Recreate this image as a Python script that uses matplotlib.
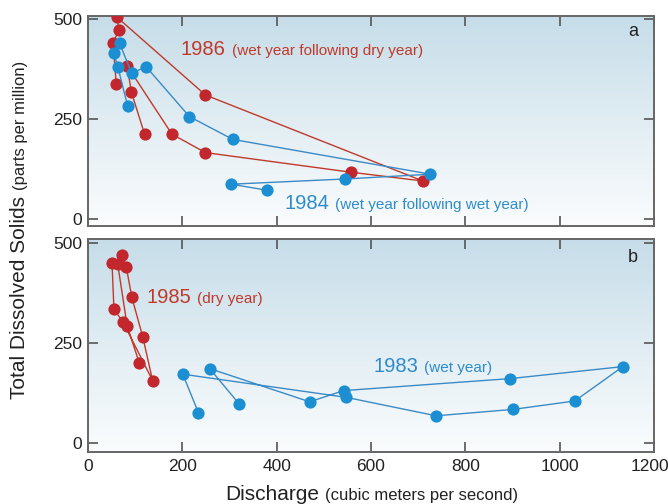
import matplotlib
matplotlib.use("Agg")
import matplotlib.pyplot as plt
import matplotlib.transforms as mtransforms
import numpy as np
from matplotlib.colors import LinearSegmentedColormap

plt.rcParams['font.family'] = ['Liberation Sans', 'DejaVu Sans']

# ---- data (discharge m3/s, TDS ppm) ----
x1986 = [120, 92, 83, 178, 249, 557, 710, 249, 62, 65, 53, 60]
y1986 = [212, 317, 383, 212, 166, 117, 95, 310, 504, 472, 439, 337]

x1984 = [379, 304, 544, 726, 307, 215, 123, 93, 67, 55, 63, 84]
y1984 = [72, 87, 100, 112, 199, 256, 381, 364, 439, 414, 381, 283]

x1985 = [109, 83, 63, 72, 81, 93, 116, 137, 74, 55, 51]
y1985 = [199, 293, 447, 470, 441, 364, 266, 156, 303, 334, 449]

x1983 = [234, 201, 548, 738, 901, 1032, 1134, 895, 542, 470, 258, 321]
y1983 = [76, 172, 114, 68, 84, 105, 191, 161, 131, 103, 186, 97]

xticks = [0, 200, 400, 600, 800, 1000, 1200]
yticks = [0, 250, 500]

RED = '#c1272d'
BLUE = '#1b8fd2'
RED_LINE = '#c0392b'
BLUE_LINE = '#3b8ac6'
RED_TXT = '#c0392b'
BLUE_TXT = '#2e8ccc'

W, H = 668, 504
fig = plt.figure(figsize=(W/100, H/100), dpi=100)

def fx(px): return px / W
def fy(py): return 1 - py / H

axa = fig.add_axes([fx(88), fy(226), fx(654) - fx(88), fy(16) - fy(226)])
axb = fig.add_axes([fx(88), fy(452), fx(654) - fx(88), fy(239) - fy(452)])

grad = np.linspace(0, 1, 256).reshape(-1, 1)
cmap = LinearSegmentedColormap.from_list('bg', ['#c6dde9', '#e1edf3', '#fafcfd'])

for ax, ylim in ((axa, (-17.5, 507.5)), (axb, (-22.5, 510))):
    ax.imshow(grad, aspect='auto', cmap=cmap, extent=[0, 1, 0, 1],
              transform=ax.transAxes, zorder=0, origin='upper')
    ax.set_xlim(0, 1200)
    ax.set_ylim(*ylim)
    ax.set_xticks(xticks)
    ax.set_yticks(yticks)
    ax.tick_params(direction='in', length=7, width=1.2, color='#555555',
                   top=True, right=True, labelsize=12.5, labelcolor='#222222', pad=4)
    for s in ax.spines.values():
        s.set_color('#666666')
        s.set_linewidth(1.4)

axa.tick_params(labelbottom=False)
axb.tick_params(axis='x', pad=5, labelsize=12.5)

ms = 8.8
lw = 1.0
axa.plot(x1986, y1986, '-', color=RED_LINE, lw=lw, zorder=3)
axa.plot(x1986, y1986, 'o', color=RED, ms=ms, mec='none', zorder=4)
axa.plot(x1984, y1984, '-', color=BLUE_LINE, lw=lw, zorder=5)
axa.plot(x1984, y1984, 'o', color=BLUE, ms=ms, mec='none', zorder=6)

axb.plot(x1983, y1983, '-', color=BLUE_LINE, lw=lw, zorder=3)
axb.plot(x1983, y1983, 'o', color=BLUE, ms=ms, mec='none', zorder=4)
axb.plot(x1985, y1985, '-', color=RED_LINE, lw=lw, zorder=5)
axb.plot(x1985, y1985, 'o', color=RED, ms=ms, mec='none', zorder=6)

fig.canvas.draw()
# nudge the last x tick label so it stays inside the canvas
last = axb.get_xticklabels()[-1]
last.set_transform(last.get_transform() +
                   mtransforms.ScaledTranslation(-4/100, 0, fig.dpi_scale_trans))

renderer = fig.canvas.get_renderer()

def two_part(px, py, big, small, color, bigsize=14.5, smallsize=11):
    t = fig.text(fx(px), fy(py), big, color=color, fontsize=bigsize,
                 ha='left', va='baseline')
    bb = t.get_window_extent(renderer)
    fig.text((bb.x1 + 6) / W, fy(py), small, color=color, fontsize=smallsize,
             ha='left', va='baseline')

two_part(181, 55, '1986', '(wet year following dry year)', RED_TXT)
two_part(284, 209, '1984', '(wet year following wet year)', BLUE_TXT)
two_part(146, 303, '1985', '(dry year)', RED_TXT)
two_part(373, 372, '1983', '(wet year)', BLUE_TXT)

fig.text(fx(633), fy(36), 'a', fontsize=13, color='#222222', ha='center', va='baseline')
fig.text(fx(633), fy(262), 'b', fontsize=13, color='#222222', ha='center', va='baseline')

# x label with mixed sizes, centred
t1 = fig.text(0, fy(500), 'Discharge', fontsize=15, color='#222222', ha='left', va='baseline')
t2 = fig.text(0, fy(500), '(cubic meters per second)', fontsize=12, color='#222222',
              ha='left', va='baseline')
b1 = t1.get_window_extent(renderer); b2 = t2.get_window_extent(renderer)
gap = 6
total = b1.width + gap + b2.width
x0 = 372 - total / 2
t1.set_x(x0 / W)
t2.set_x((x0 + b1.width + gap) / W)

# y label rotated with mixed sizes (baseline at ~x=25)
s1 = fig.text(fx(25), 0, 'Total Dissolved Solids', fontsize=15, color='#222222',
              rotation=90, ha='left', va='baseline', rotation_mode='anchor')
s2 = fig.text(fx(25), 0, '(parts per million)', fontsize=12, color='#222222',
              rotation=90, ha='left', va='baseline', rotation_mode='anchor')
c1 = s1.get_window_extent(renderer); c2 = s2.get_window_extent(renderer)
totv = c1.height + gap + c2.height
ycen = H - 230
y0 = ycen - totv / 2
s1.set_y(y0 / H)
s2.set_y((y0 + c1.height + gap) / H)

fig.savefig('out.png', dpi=100)
